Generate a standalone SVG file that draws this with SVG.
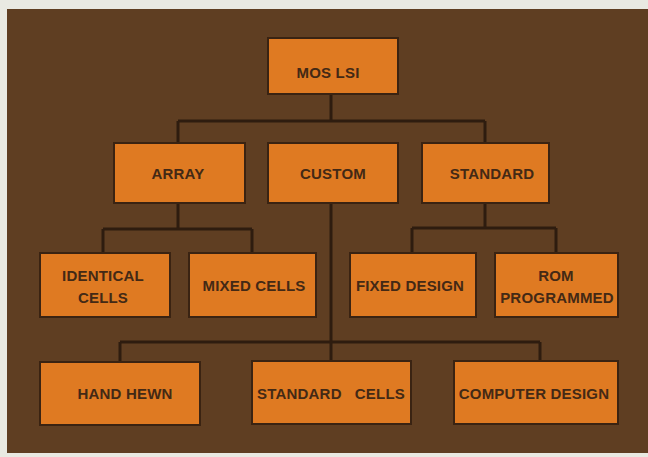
<svg xmlns="http://www.w3.org/2000/svg" width="648" height="457" viewBox="0 0 648 457">
<style>
.box{fill:#df7a22;stroke:#3a2312;stroke-width:2}
.t{font-family:"Liberation Sans",Arial,sans-serif;font-size:15px;font-weight:bold;fill:#432915;text-anchor:middle;letter-spacing:0.2px}
.c{fill:none;stroke:#2e1c0f;stroke-width:3}
</style>
<rect x="0" y="0" width="648" height="457" fill="#e9e9e2"/>
<rect x="7" y="9" width="641" height="444" fill="#5f3e22"/>
<g id="connectors" class="c">
<path d="M331 93V121M178 121H485M178 121V143M485 121V143"/>
<path d="M178 203V229M103 229H252M103 229V253M252 229V253"/>
<path d="M485 203V228M412 228H556M412 228V253M556 228V253"/>
<path d="M331 203V361M120 342H540M120 342V362M540 342V362"/>
</g>
<g id="mos"><rect class="box" x="268" y="38" width="130" height="56"/><text class="t" x="328" y="78">MOS LSI</text></g>
<g id="array"><rect class="box" x="114" y="143" width="131" height="60"/><text class="t" x="178" y="179">ARRAY</text></g>
<g id="custom"><rect class="box" x="268" y="143" width="130" height="60"/><text class="t" x="333" y="179">CUSTOM</text></g>
<g id="standard"><rect class="box" x="422" y="143" width="127" height="60"/><text class="t" x="492" y="179">STANDARD</text></g>
<g id="identical"><rect class="box" x="40" y="253" width="130" height="64"/><text class="t" x="103" y="281">IDENTICAL</text><text class="t" x="103" y="303">CELLS</text></g>
<g id="mixed"><rect class="box" x="189" y="253" width="127" height="64"/><text class="t" x="254" y="291">MIXED CELLS</text></g>
<g id="fixed"><rect class="box" x="350" y="253" width="126" height="64"/><text class="t" x="410" y="291">FIXED DESIGN</text></g>
<g id="rom"><rect class="box" x="495" y="253" width="123" height="64"/><text class="t" x="556" y="281">ROM</text><text class="t" x="557" y="303">PROGRAMMED</text></g>
<g id="hand"><rect class="box" x="40" y="362" width="160" height="63"/><text class="t" x="125" y="399">HAND HEWN</text></g>
<g id="stdcells"><rect class="box" x="252" y="361" width="159" height="63"/><text class="t" x="331" y="399" xml:space="preserve">STANDARD   CELLS</text></g>
<g id="computer"><rect class="box" x="454" y="361" width="164" height="63"/><text class="t" x="534" y="399">COMPUTER DESIGN</text></g>
</svg>
